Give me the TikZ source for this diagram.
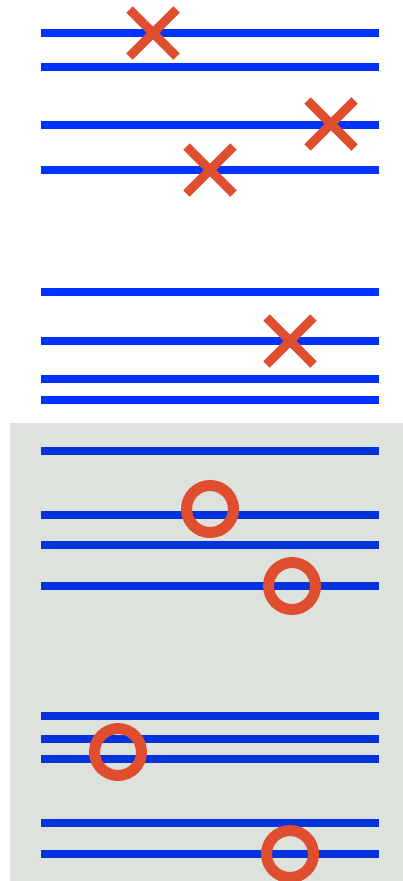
\documentclass[tikz,border=0pt]{standalone}
\usepackage{tikz}
\usetikzlibrary{positioning,calc}

\definecolor{staffblue}{HTML}{0033FF}
\definecolor{staffdark}{HTML}{0433DD}
\definecolor{markred}{HTML}{E04E30}
\definecolor{panelgray}{HTML}{DDE2DC}

\begin{document}
\begin{tikzpicture}[
    x=1pt, y=-1pt,
    staff/.style={line width=8pt, staffblue},
    staffin/.style={line width=8pt, staffdark},
    miss/.style={line width=9pt, markred},
    hit/.style={draw=markred, line width=11pt, circle, minimum size=47pt,
                inner sep=0pt},
]

% === Canvas and shaded panel ===
\useasboundingbox (0,0) rectangle (403,881);
\fill[panelgray] (10,423) rectangle (403,881);

% === Lines, upper part ===
\foreach \y in {33,66.5,125,170,292,341,379,400}
  \draw[staff] (41,\y) -- (379,\y);

% === Lines, shaded part ===
\foreach \y in {451,515,545,586,716,739,759,823,854}
  \draw[staffin] (41,\y) -- (379,\y);

% === Crosses ===
\foreach \n/\cx/\cy in {x1/153/33, x2/331/124, x3/210/170, x4/290/341} {
  \coordinate (\n) at (\cx,\cy);
  \draw[miss] ($(\n)+(-23.5,-23.5)$) -- ($(\n)+(23.5,23.5)$);
  \draw[miss] ($(\n)+(-23.5,23.5)$) -- ($(\n)+(23.5,-23.5)$);
}

% === Circles ===
\node[hit] (o1) at (210,509) {};
\node[hit] (o2) at (292,586) {};
\node[hit] (o3) at (118,752) {};
\node[hit] (o4) at (290,854) {};

\end{tikzpicture}
\end{document}
